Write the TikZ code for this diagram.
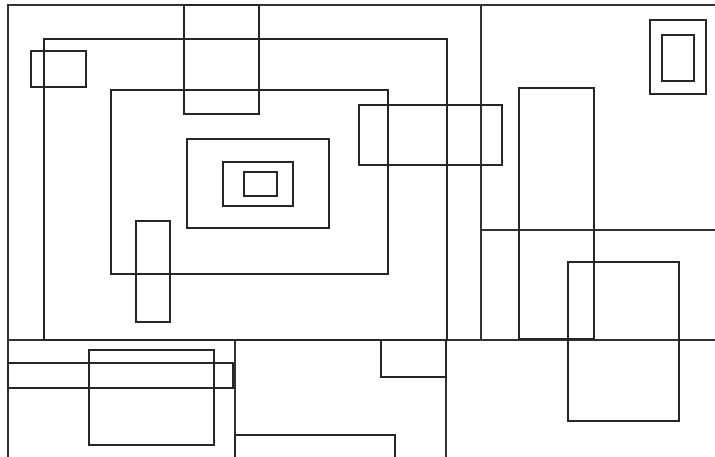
\documentclass[tikz,border=0pt]{standalone}
\usepackage{tikz}

\begin{document}
\begin{tikzpicture}[x=1pt,y=-1pt,
  frame/.style={draw=black!85,line width=1.4pt},
  part/.style={draw=black!80,line width=1.3pt}]
\useasboundingbox (0,0) rectangle (715,457);
\clip (0,0) rectangle (715,457);
% partition of the plane
\foreach \xa/\ya/\xb/\yb in {8/5/481/340, 481/5/730/230, 481/230/730/340,
  8/340/235/470, 235/340/446/470, 446/340/730/470}
  \draw[part] (\xa,\ya) rectangle (\xb,\yb);
% rectangles
\foreach \xa/\ya/\xb/\yb in {44/39/447/340, 31/51/86/87, 184/5/259/114,
  111/90/388/274, 187/139/329/228, 223/162/293/206, 244/172/277/196,
  136/221/170/322, 359/105/502/165, 650/20/706/94, 662/35/694/81,
  519/88/594/339, 568/262/679/421, 8/363/233/388, 89/350/214/445,
  235/435/395/470, 381/340/446/377}
  \draw[frame] (\xa,\ya) rectangle (\xb,\yb);
\end{tikzpicture}
\end{document}
